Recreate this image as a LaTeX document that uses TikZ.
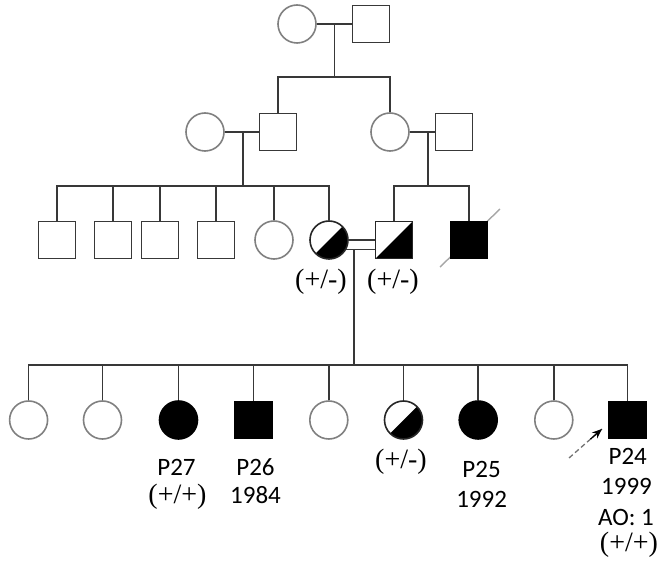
\documentclass[tikz,border=0pt]{standalone}
\usepackage{fontspec}
\setmainfont{Liberation Serif}
\newfontfamily\idfont{Carlito}
\usetikzlibrary{arrows.meta,calc}
\begin{document}
\begin{tikzpicture}[x=1pt,y=-1pt,
  line/.style={draw=black!78, line width=1.5pt},
  male/.style={rectangle, draw=black!78, line width=1.6pt, minimum size=37pt, inner sep=0pt},
  female/.style={circle, draw=black!50, line width=1.6pt, minimum size=38pt, inner sep=0pt},
  aff/.style={fill=black, draw=black},
  carrier/.style={draw=black!85, path picture={\fill[black]
      (path picture bounding box.south west) -- (path picture bounding box.north east)
      -- (path picture bounding box.south east) -- cycle;}},
  geno/.style={font=\fontsize{28}{28}\selectfont, inner sep=0pt},
  idlabel/.style={font=\idfont\fontsize{25}{25}\selectfont, inner sep=0pt}
]
\useasboundingbox (0,0) rectangle (662,561);

% generation I
\node[female] (f1) at (297,24) {};
\node[male]   (m1) at (371,24) {};

% generation II
\node[female] (f2) at (205,132) {};
\node[male]   (m2) at (278,132) {};
\node[female] (f3) at (390,132) {};
\node[male]   (m3) at (454,132) {};

% generation III
\node[male]   (s1) at (57,240) {};
\node[male]   (s2) at (113,240) {};
\node[male]   (s3) at (160,240) {};
\node[male]   (s4) at (216,240) {};
\node[female] (s5) at (274,240) {};
\node[female,carrier] (hc) at (329,240) {};
\node[male,carrier]   (hs) at (394,240) {};
\node[male,aff] (dm) at (469,240) {};

% generation IV
\node[female] (c1) at (28.6,420) {};
\node[female] (c2) at (102.5,420) {};
\node[female,aff] (c3) at (178.5,420) {};
\node[male,aff]   (c4) at (253.6,420) {};
\node[female] (c5) at (328.8,420) {};
\node[female,carrier] (c6) at (403.5,420) {};
\node[female,aff] (c7) at (478.2,420) {};
\node[female] (c8) at (553.8,420) {};
\node[male,aff]   (c9) at (627.7,420) {};

% couple and sibship lines, generation I -> II
\draw[line] (f1.east) -- (m1.west);
\coordinate (d1) at ($(f1.east)!0.5!(m1.west)$);
\coordinate (sib1) at (0,77);
\draw[line] (d1) -- (d1 |- sib1);
\draw[line] (m2.north) |- (sib1 -| d1) -| (f3.north);

% generation II couples -> III
\draw[line] (f2.east) -- (m2.west);
\draw[line] (f3.east) -- (m3.west);
\coordinate (d2) at (243,132);
\coordinate (d3) at (428,132);
\coordinate (sib2) at (0,186);
\draw[line] (d2) -- (d2 |- sib2);
\draw[line] (d3) -- (d3 |- sib2);
\draw[line] (s1.north) |- (sib2 -| hc) -- (hc.north);
\foreach \k in {s2,s3,s4,s5} \draw[line] (\k.north) -- (\k.north |- sib2);
\draw[line] (hs.north) |- (sib2 -| dm) -- (dm.north);

% deceased mark
\draw[black!35, line width=1.4pt] ([shift={(-29,27)}]dm.center) -- ([shift={(31,-31)}]dm.center);
\node[male,aff] at (dm.center) {};

% consanguineous union
\draw[line] (hc.east) -- (hs.west);
\coordinate (cl) at (hc.-28);
\draw[line] (cl) -- (cl -| hs.west);
\coordinate (d4) at (354,0);
\coordinate (sib3) at (0,365);
\draw[line] (d4 |- cl) -- (d4 |- sib3);
\draw[line] (c1.north) |- (sib3 -| c9) -- (c9.north);
\foreach \k in {c2,c3,c4,c5,c6,c7,c8} \draw[line] (\k.north) -- (\k.north |- sib3);

% proband arrow
\coordinate (ptail) at (569,458);
\coordinate (phead) at (602,429);
\draw[black!55, line width=1.3pt, dashed, dash pattern=on 5pt off 3pt] (ptail) -- (phead);
\draw[black, line width=1.3pt, -{Stealth[length=10pt,width=8pt]}] ($(ptail)!0.65!(phead)$) -- (phead);

% genotype and identifier labels
\node[geno] (g1) at (321,282) {(+/-)};
\node[geno] (g2) at (393,282) {(+/-)};
\node[idlabel] (l27) at (176.5,467) {P27};
\node[geno] (g27) at (177.5,497) {(+/+)};
\node[idlabel] (l26) at (255.5,467) {P26};
\node[idlabel] (y26) at (255.5,495) {1984};
\node[geno] (g6) at (401,462) {(+/-)};
\node[idlabel] (l25) at (481.6,469) {P25};
\node[idlabel] (y25) at (481.6,499) {1992};
\node[idlabel] (l24) at (627.7,456) {P24};
\node[idlabel] (y24) at (626.5,486) {1999};
\node[idlabel] (a24) at (626,517) {AO: 1};
\node[geno] (g24) at (629,545) {(+/+)};
\end{tikzpicture}
\end{document}
